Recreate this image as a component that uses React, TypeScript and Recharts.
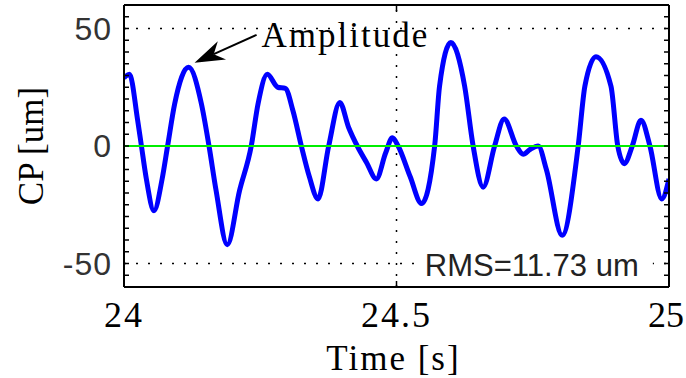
import React from 'react';
import { LineChart, Line, XAxis, YAxis, ReferenceLine, ReferenceDot } from 'recharts';

// time [s]
const times = [
  24.0, 24.01, 24.025, 24.032, 24.041, 24.055, 24.07, 24.08, 24.093, 24.1185,
  24.142, 24.156, 24.169, 24.1895, 24.212, 24.2335, 24.246, 24.263, 24.282, 24.296,
  24.31, 24.3254, 24.34, 24.356, 24.3756, 24.396, 24.412, 24.428, 24.445, 24.463,
  24.48, 24.4925, 24.503, 24.525, 24.546, 24.57, 24.579, 24.5997, 24.625, 24.6406,
  24.659, 24.68, 24.6975, 24.72, 24.7325, 24.745, 24.76, 24.775, 24.804, 24.8334,
  24.8457, 24.866, 24.8935, 24.906, 24.918, 24.9326, 24.9486, 24.965, 24.9866, 25.0,
];
// CP [um]
const cp = [
  29, 30.5, 11, 0, -14, -27.5, -14, 0, 18, 33.5,
  18, 0, -19, -42, -19, 0, 18, 30.5, 25, 24.5,
  15, 0, -13, -22.5, 0, 18.5, 8, 0, -7, -14,
  -3, 3.5, 0, -13, -24.5, 0, 25.5, 44, 25.5, 0,
  -17.5, 0, 11.5, 0, -3.5, -1.5, 0, -10, -38, 0,
  25.5, 38, 25.5, 0, -7.5, 0, 11, 0, -22.5, -14,
];

const xTicks = [24, 24.5, 25];
const yTicks = [-60, -55, -50, -45, -40, -35, -30, -25, -20, -15, -10, -5, 0, 5, 10, 15, 20, 25, 30, 35, 40, 45, 50, 55, 60];
const yLabelled = [-50, 0, 50];
const gridX = [24.5];
const gridY = [-50, 50];
const xDomain = [24, 25];
const yDomain = [-60, 60];

const annotationText = 'Amplitude';
const arrowTail = { t: 24.2433, v: 47.3 };
const arrowTip = { t: 24.1295, v: 35.4 };
const rmsText = 'RMS=11.73 um';
const rmsAnchor = { t: 24.552, v: -55.3 };

const data = times.map((t, i) => ({ t, cp: cp[i] }));

const SERIF = '"Liberation Serif", "Times New Roman", serif';
const SANS = '"Liberation Sans", Arial, sans-serif';

const BottomTick = (props: any) => {
  const { x, y, payload } = props;
  const isLast = payload.value === xTicks[xTicks.length - 1];
  return (
    <g>
      <line x1={x} y1={y} x2={x} y2={y - 6} stroke="#000" strokeWidth={1.5} />
      <text
        x={isLast ? x - 3 : x}
        y={y + 40}
        textAnchor="middle"
        fontFamily={SERIF}
        fontSize={36}
        letterSpacing={isLast ? 0 : 2}
        fill="#000"
      >
        {payload.value}
      </text>
    </g>
  );
};

const TopTick = (props: any) => {
  const { x, y } = props;
  return <line x1={x} y1={y} x2={x} y2={y + 6} stroke="#000" strokeWidth={1.5} />;
};

const LeftTick = (props: any) => {
  const { x, y, payload } = props;
  const showLabel = yLabelled.includes(payload.value);
  return (
    <g>
      <line x1={x} y1={y} x2={x + 5} y2={y} stroke="#000" strokeWidth={1.5} />
      {showLabel && (
        <text x={x - 12} y={y + 11} textAnchor="end" fontFamily={SANS} fontSize={32} letterSpacing={1} fill="#333">
          {payload.value}
        </text>
      )}
    </g>
  );
};

const RightTick = (props: any) => {
  const { x, y } = props;
  return <line x1={x} y1={y} x2={x - 5} y2={y} stroke="#000" strokeWidth={1.5} />;
};

const YTitle = (props: any) => {
  const vb = props.viewBox || { x: 0, y: 0, width: 124, height: 282 };
  const cx = vb.x + 43;
  const cy = vb.y + vb.height / 2;
  return (
    <text x={cx} y={cy} transform={`rotate(-90 ${cx} ${cy})`} textAnchor="middle" fontFamily={SERIF} fontSize={35} fill="#000">
      CP [um]
    </text>
  );
};

const XTitle = (props: any) => {
  const vb = props.viewBox || { x: 124, y: 287, width: 545, height: 91 };
  const cx = vb.x + vb.width / 2 - 3;
  const cy = vb.y + 83;
  return (
    <text x={cx} y={cy} textAnchor="middle" fontFamily={SERIF} fontSize={35} letterSpacing={2} fill="#000">
      Time [s]
    </text>
  );
};

const ArrowShape = (props: any) => {
  const { x1, y1, x2, y2 } = props;
  const dx = x2 - x1;
  const dy = y2 - y1;
  const len = Math.hypot(dx, dy) || 1;
  const ux = dx / len;
  const uy = dy / len;
  const headLen = 30;
  const headW = 10;
  const bx = x2 - ux * headLen;
  const by = y2 - uy * headLen;
  const nx = x2 - ux * headLen * 0.7;
  const ny = y2 - uy * headLen * 0.7;
  const pts = [
    [x2, y2],
    [bx - uy * headW, by + ux * headW],
    [nx, ny],
    [bx + uy * headW, by - ux * headW],
  ]
    .map((p) => p.join(','))
    .join(' ');
  return (
    <g>
      <line x1={x1} y1={y1} x2={nx} y2={ny} stroke="#000" strokeWidth={2} />
      <polygon points={pts} fill="#000" />
      <text x={x1 + 5} y={y1 + 12} fontFamily={SERIF} fontSize={35} letterSpacing={2} fill="#000">
        {annotationText}
      </text>
    </g>
  );
};

const RmsShape = (props: any) => {
  const { cx, cy } = props;
  return (
    <g>
      <rect x={cx - 10} y={cy - 28} width={238} height={36} fill="#fff" />
      <text x={cx} y={cy} fontFamily={SANS} fontSize={31} fill="#222">
        {rmsText}
      </text>
    </g>
  );
};

export default function App() {
  return (
    <div style={{ position: 'absolute', left: 0, top: 0, width: 686, height: 378, background: '#fff' }}>
      <LineChart width={686} height={378} data={data} margin={{ top: 0, right: 0, bottom: 0, left: 0 }}>
        <XAxis
          xAxisId="bottom"
          dataKey="t"
          type="number"
          domain={xDomain}
          ticks={xTicks}
          interval={0}
          allowDataOverflow
          height={91}
          tickSize={0}
          tickMargin={0}
          tickLine={false}
          axisLine={{ stroke: '#000', strokeWidth: 2 }}
          tick={<BottomTick />}
          label={(p: any) => <XTitle {...p} />}
        />
        <XAxis
          xAxisId="top"
          orientation="top"
          dataKey="t"
          type="number"
          domain={xDomain}
          ticks={xTicks}
          interval={0}
          allowDataOverflow
          height={5}
          tickSize={0}
          tickMargin={0}
          tickLine={false}
          axisLine={{ stroke: '#000', strokeWidth: 2 }}
          tick={<TopTick />}
        />
        <YAxis
          yAxisId="left"
          type="number"
          domain={yDomain}
          ticks={yTicks}
          interval={0}
          allowDataOverflow
          width={124}
          tickSize={0}
          tickMargin={0}
          tickLine={false}
          axisLine={{ stroke: '#000', strokeWidth: 2 }}
          tick={<LeftTick />}
          label={(p: any) => <YTitle {...p} />}
        />
        <YAxis
          yAxisId="right"
          orientation="right"
          type="number"
          domain={yDomain}
          ticks={yTicks}
          interval={0}
          allowDataOverflow
          width={17}
          tickSize={0}
          tickMargin={0}
          tickLine={false}
          axisLine={{ stroke: '#000', strokeWidth: 2 }}
          tick={<RightTick />}
        />
        {gridY.map((v) => (
          <ReferenceLine key={'gy' + v} xAxisId="bottom" yAxisId="left" y={v} stroke="#000" strokeWidth={1.5} strokeDasharray="2 10" />
        ))}
        {gridX.map((v) => (
          <ReferenceLine key={'gx' + v} xAxisId="bottom" yAxisId="left" x={v} stroke="#000" strokeWidth={1.5} strokeDasharray="2 9" />
        ))}
        <Line
          xAxisId="bottom"
          yAxisId="left"
          type="monotone"
          dataKey="cp"
          stroke="#0000ff"
          strokeWidth={5}
          dot={false}
          isAnimationActive={false}
        />
        <ReferenceLine xAxisId="bottom" yAxisId="left" y={0} stroke="#00ee00" strokeWidth={2} />
        <ReferenceLine
          xAxisId="bottom"
          yAxisId="left"
          segment={[
            { x: arrowTail.t, y: arrowTail.v },
            { x: arrowTip.t, y: arrowTip.v },
          ]}
          shape={(p: any) => <ArrowShape {...p} />}
        />
        <ReferenceDot
          xAxisId="bottom"
          yAxisId="left"
          x={rmsAnchor.t}
          y={rmsAnchor.v}
          r={0}
          shape={(p: any) => <RmsShape {...p} />}
        />
      </LineChart>
    </div>
  );
}
